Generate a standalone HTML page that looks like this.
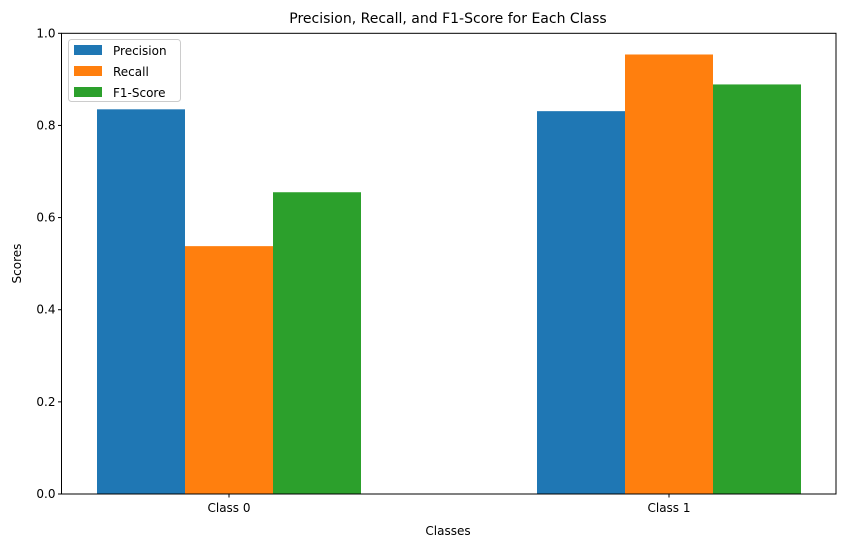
<!DOCTYPE html>
<html><head><meta charset="utf-8"><style>
body{margin:0;background:#fff;}
svg{display:block;font-family:"DejaVu Sans","Liberation Sans",sans-serif;}
</style></head><body>
<svg id="chart" width="846" height="547">
<rect width="846" height="547" fill="#fff"/>
<text x="448" y="23" font-size="14" text-anchor="middle">Precision, Recall, and F1-Score for Each Class</text>
<g id="bars"></g>
<g id="axes"></g>
<text x="448" y="535" font-size="12" text-anchor="middle">Classes</text>
<text transform="translate(21,263.5) rotate(-90)" font-size="12" text-anchor="middle">Scores</text>
<g>
<rect x="68.5" y="39.5" width="112" height="62" rx="3" fill="#fff" fill-opacity="0.8" stroke="#ccc"/>
<g id="legend-items"></g>
</g>
</svg>
<script>
const categories = ["Class 0", "Class 1"];
const series = ["Precision", "Recall", "F1-Score"];
const precision = [0.835, 0.831];
const recall = [0.538, 0.954];
const f1 = [0.655, 0.889];
const yTicks = [0.0, 0.2, 0.4, 0.6, 0.8, 1.0];

const values = [precision, recall, f1];
const colors = ["#1f77b4", "#ff7f0e", "#2ca02c"];
const NS = "http://www.w3.org/2000/svg";
const L = 61.5, R = 836, T = 33.3, B = 494;
const y = v => B - v * (B - T);
const xCenter = i => 229 + i * 440;
const bw = 88;

function mk(tag, attrs, parent) {
  const e = document.createElementNS(NS, tag);
  for (const k in attrs) e.setAttribute(k, attrs[k]);
  parent.appendChild(e);
  return e;
}
const bars = document.getElementById("bars");
values.forEach((arr, s) => {
  arr.forEach((v, i) => {
    const r = mk("rect", {x: xCenter(i) + (s - 1.5) * bw, y: y(v), width: bw, height: B - y(v), fill: colors[s]}, bars);
    
    
  });
});
const axes = document.getElementById("axes");
mk("rect", {x: L, y: T, width: R - L, height: B - T, fill: "none", stroke: "#000", "stroke-width": 1}, axes);
yTicks.forEach(t => {
  mk("line", {x1: L - 3.5, x2: L, y1: y(t), y2: y(t), stroke: "#000"}, axes);
  const tx = mk("text", {x: L - 6, y: y(t) + 4, "font-size": 12, "text-anchor": "end"}, axes);
  tx.textContent = t.toFixed(1);
  
  
});
categories.forEach((c, i) => {
  mk("line", {x1: xCenter(i), x2: xCenter(i), y1: B, y2: B + 3.5, stroke: "#000"}, axes);
  const tx = mk("text", {x: xCenter(i), y: B + 18, "font-size": 12, "text-anchor": "middle"}, axes);
  tx.textContent = c;
  
  
});
const li = document.getElementById("legend-items");
series.forEach((s, k) => {
  const g = mk("g", {}, li);
  
  
  mk("rect", {x: 74, y: 45 + k * 21, width: 28, height: 10, fill: colors[k]}, g);
  const t = mk("text", {x: 113, y: 55 + k * 21, "font-size": 12}, g);
  t.textContent = s;
});
</script>
</body></html>
